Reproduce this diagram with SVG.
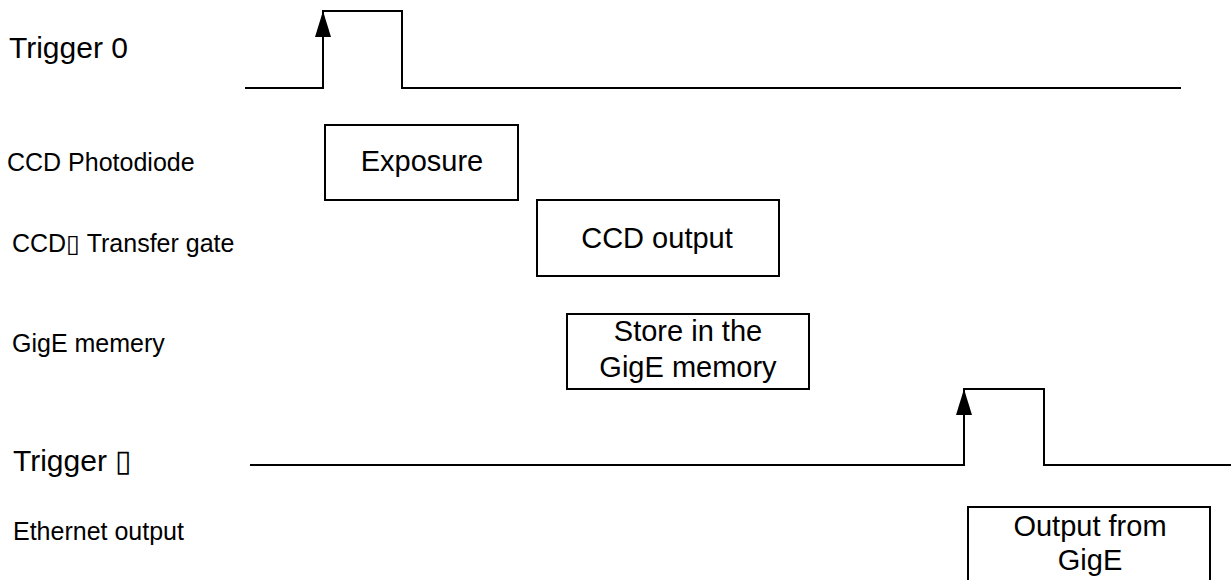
<svg xmlns="http://www.w3.org/2000/svg" width="1231" height="580" viewBox="0 0 1231 580">
<style>
  .lbl { font-family: "Liberation Sans", Arial, sans-serif; fill: #000; }
  .big { font-size: 30px; }
  .sm { font-size: 25px; }
  .box { fill: #fff; stroke: #000; stroke-width: 2; }
  .wave { fill: none; stroke: #000; stroke-width: 2; }
  .btxt { font-family: "Liberation Sans", Arial, sans-serif; font-size: 29px; text-anchor: middle; fill: #000; }
</style>
<defs>
  <marker id="arr" markerUnits="userSpaceOnUse" markerWidth="26" markerHeight="16" viewBox="0 0 26 16" refX="26" refY="8" orient="auto">
    <path d="M0,0 L26,8 L0,16 z" fill="#000"/>
  </marker>
</defs>
<rect width="1231" height="580" fill="#fff"/>

<g id="labels">
  <text class="lbl big" x="9" y="58">Trigger 0</text>
  <text class="lbl sm" x="7" y="171">CCD Photodiode</text>
  <text class="lbl sm" x="12" y="252">CCD▯ Transfer gate</text>
  <text class="lbl sm" x="12" y="352">GigE memery</text>
  <text class="lbl big" x="13" y="471">Trigger ▯</text>
  <text class="lbl sm" x="13" y="540">Ethernet output</text>
</g>

<g id="connectors">
  <polyline class="wave" points="245,88 323,88 323,11 402,11 402,88 1181,88"/>
  <line class="wave" x1="323" y1="60" x2="323" y2="11" marker-end="url(#arr)"/>
  <polyline class="wave" points="250,465 964,465 964,389 1044,389 1044,465 1231,465"/>
  <line class="wave" x1="964" y1="440" x2="964" y2="389" marker-end="url(#arr)"/>
</g>

<g id="exposure">
  <rect class="box" x="325" y="125" width="193" height="75"/>
  <text class="btxt" x="422" y="171">Exposure</text>
</g>
<g id="ccd-output">
  <rect class="box" x="537" y="200" width="242" height="76"/>
  <text class="btxt" x="657" y="248">CCD output</text>
</g>
<g id="gige-store">
  <rect class="box" x="567" y="314" width="242" height="75"/>
  <text class="btxt" x="688" y="341">Store in the</text>
  <text class="btxt" x="688" y="377">GigE memory</text>
</g>
<g id="gige-output">
  <rect class="box" x="968" y="507" width="242" height="85"/>
  <text class="btxt" x="1090" y="536">Output from</text>
  <text class="btxt" x="1090" y="570">GigE</text>
</g>
</svg>
